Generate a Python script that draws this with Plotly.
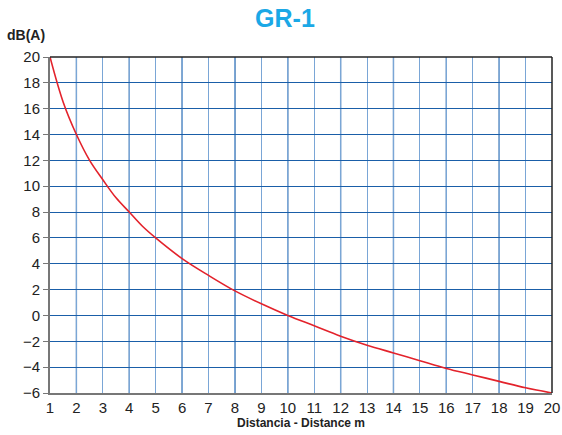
import plotly.graph_objects as go

# distance (m) and sound level
distance = [1, 1.5, 2, 2.5, 3, 3.5, 4, 4.5, 5, 6, 7, 8, 9, 10,
            11, 12, 13, 14, 15, 16, 17, 18, 19, 20]
level_dba = [20, 16.5, 14, 12, 10.5, 9.1, 8, 6.9, 6, 4.4, 3.1, 1.9, 0.9, 0,
             -0.8, -1.6, -2.3, -2.9, -3.5, -4.1, -4.6, -5.1, -5.6, -6]

x_ticks = list(range(1, 21))
y_ticks = list(range(-6, 21, 2))
dark_cols = list(range(2, 20, 2))

fig = go.Figure()
fig.add_trace(go.Scatter(x=distance, y=level_dba, mode="lines",
                         line=dict(color="#e3222b", width=1.6, shape="spline"),
                         showlegend=False, hoverinfo="skip"))

# darker vertical grid on even distances
for xv in dark_cols:
    fig.add_shape(type="line", xref="x", yref="paper", x0=xv, x1=xv, y0=0, y1=1,
                  line=dict(color="#1a5ea8", width=1.3), layer="below")

fig.update_layout(
    width=562, height=435, autosize=False,
    margin=dict(l=50, r=10, t=57, b=42),
    plot_bgcolor="white", paper_bgcolor="white",
    font=dict(family="Liberation Sans, Arial, sans-serif", size=15, color="#222"),
    title=dict(text="<b>GR-1</b>", x=0.507, xanchor="center", y=0.957, yanchor="middle",
               font=dict(size=25, color="#1ba8e6", family="Liberation Sans, Arial")),
    xaxis=dict(range=[1, 20], tickvals=x_ticks, ticks="", showgrid=True,
               gridcolor="#7aa6d6", gridwidth=1.3, zeroline=False, automargin=False,
               showline=True, linecolor="#777", linewidth=2, mirror=False,
               title=dict(text="<b>Distancia - Distance m</b>", standoff=4,
                          font=dict(size=12, color="#222"))),
    yaxis=dict(range=[-6, 20], tickvals=y_ticks, ticks="outside", ticklen=5,
               tickcolor="#777", showgrid=True, gridcolor="#1a5ea8", gridwidth=1.3,
               zeroline=False, showline=True, linecolor="#777", linewidth=2,
               automargin=False),
    annotations=[dict(text="<b>dB(A)</b>", xref="paper", yref="paper", x=-0.0896, y=1.035,
                      xanchor="left", yanchor="bottom", showarrow=False,
                      font=dict(size=14, color="#222"))],
)

# black top and right border
fig.add_shape(type="line", xref="paper", yref="paper", x0=0, x1=1, y0=1, y1=1,
              line=dict(color="#222", width=1.5))
fig.add_shape(type="line", xref="paper", yref="paper", x0=1, x1=1, y0=0, y1=1,
              line=dict(color="#222", width=1.5))

# drop the default page margin so the figure fills the window exactly
fig.write_html("out.html", config={"displayModeBar": False},
               post_script="document.body.style.margin='0';"
                           "document.body.style.overflow='hidden';")
